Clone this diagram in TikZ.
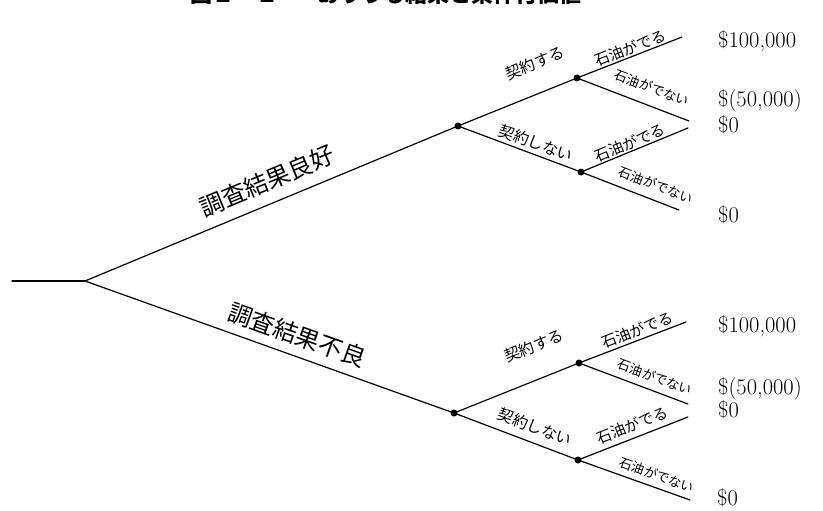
\documentclass[tikz,border=0pt]{standalone}
\usepackage{fontspec}
\newfontfamily\cjk{Noto Sans CJK JP}
\tikzset{
  branch/.style={line width=1.2pt, line cap=round},
  chance/.style={circle, fill=black, inner sep=0pt, minimum size=7pt},
  lab/.style={inner sep=0pt, font=\cjk\fontsize{#1}{#1}\selectfont},
  val/.style={inner sep=0pt, anchor=west, font=\fontsize{22.5}{26}\selectfont},
  ttl/.style={inner sep=0pt, anchor=base west, font=\cjk\bfseries\fontsize{22}{22}\selectfont}
}
\begin{document}
\begin{tikzpicture}[x=1pt,y=-1pt]
\useasboundingbox (0,0) rectangle (823,511);
\clip (0,0) rectangle (823,511);
% title (cut off at the top in the reference)
\node[ttl] (t1) at (190,2.5) {図２－２};
\node[ttl] (t2) at (317,2.5) {ありうる結果と条件付価値};
% decision / chance points
\coordinate (s) at (12,281);
\coordinate (r) at (85,281);
\node[chance] (A) at (458,126) {};
\node[chance] (B) at (454,413) {};
\node[chance] (A1) at (577,78) {};
\node[chance] (A2) at (581,172) {};
\node[chance] (B1) at (579,363) {};
\node[chance] (B2) at (578,460) {};
\coordinate (a11) at (682,37);
\coordinate (a12) at (689,121);
\coordinate (a21) at (688,128);
\coordinate (a22) at (679,210);
\coordinate (b11) at (686,322);
\coordinate (b12) at (688,404);
\coordinate (b21) at (688,417);
\coordinate (b22) at (690,500);
% branches
\draw[branch] (s) -- (r);
\draw[branch] (r) -- (A.center);
\draw[branch] (r) -- (B.center);
\draw[branch] (A.center) -- (A1.center);
\draw[branch] (A.center) -- (A2.center);
\draw[branch] (B.center) -- (B1.center);
\draw[branch] (B.center) -- (B2.center);
\draw[branch] (A1.center) -- (a11);
\draw[branch] (A1.center) -- (a12);
\draw[branch] (A2.center) -- (a21);
\draw[branch] (A2.center) -- (a22);
\draw[branch] (B1.center) -- (b11);
\draw[branch] (B1.center) -- (b12);
\draw[branch] (B2.center) -- (b21);
\draw[branch] (B2.center) -- (b22);
% labels
\node[lab=24, rotate=22.6] (lg) at (267,181) {調査結果良好};
\node[lab=24, rotate=-19.6] (lb) at (297,335) {調査結果不良};
\node[lab=15.5, rotate=22.2] (c1) at (535,63) {契約する};
\node[lab=15.5, rotate=-20.2] (n1) at (536,143) {契約しない};
\node[lab=15.5, rotate=21.8] (c2) at (534,346) {契約する};
\node[lab=15.5, rotate=-20.8] (n2) at (535,427) {契約しない};
\node[lab=15, rotate=21.3] (o11) at (630,48) {石油がでる};
\node[lab=13, rotate=-21.0] (o12) at (652,88) {石油がでない};
\node[lab=15, rotate=22.4] (o21) at (630,143) {石油がでる};
\node[lab=13, rotate=-21.2] (o22) at (656,185) {石油がでない};
\node[lab=15, rotate=21.0] (p11) at (637,330) {石油がでる};
\node[lab=13, rotate=-20.6] (p12) at (655,377) {石油がでない};
\node[lab=15, rotate=21.4] (p21) at (632,425) {石油がでる};
\node[lab=13, rotate=-19.7] (p22) at (657,475) {石油がでない};
% values
\node[val] (v1) at (718,41) {\$100,000};
\node[val] (v2) at (718,101) {\$(50,000)};
\node[val] (v3) at (718,125) {\$0};
\node[val] (v4) at (718,215) {\$0};
\node[val] (v5) at (718,326) {\$100,000};
\node[val] (v6) at (718,389) {\$(50,000)};
\node[val] (v7) at (718,410) {\$0};
\node[val] (v8) at (717,498) {\$0};
\end{tikzpicture}
\end{document}
